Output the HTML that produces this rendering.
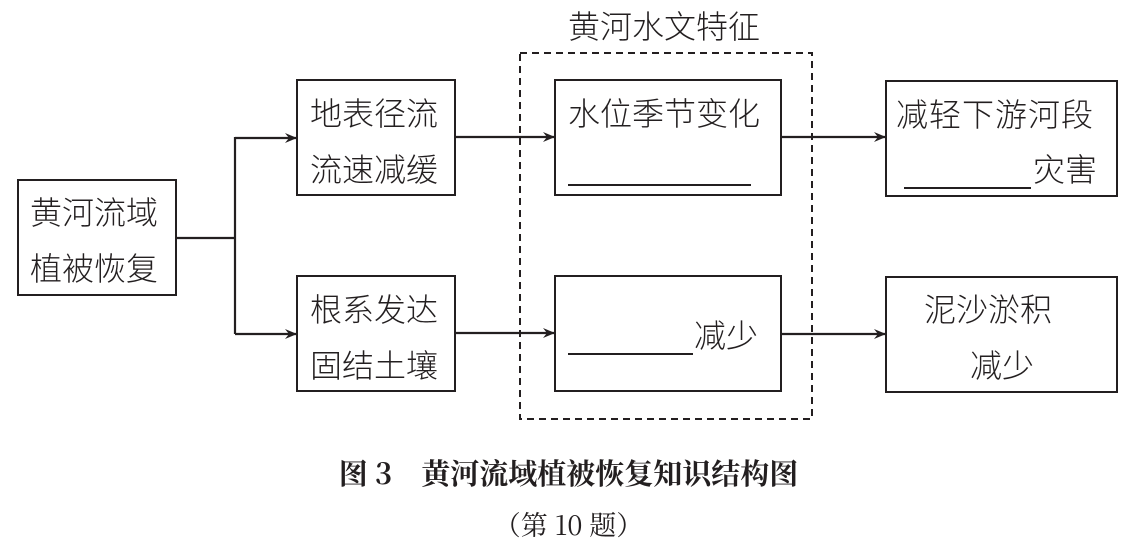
<!DOCTYPE html>
<html><head><meta charset="utf-8"><style>
body{margin:0;background:#fff;width:1137px;height:542px;overflow:hidden;position:relative;font-family:"Liberation Serif","Noto Serif CJK SC","Noto Sans CJK SC",serif;color:#231f20}
.b{position:absolute;border:2.5px solid #231f20;box-sizing:border-box}
.t{position:absolute;font-size:32px;line-height:32px;white-space:nowrap;font-family:"Noto Sans CJK SC",sans-serif;font-weight:300}
.u{position:absolute;height:0;border-top:2px solid #231f20}
</style></head><body>
<svg width="1137" height="542" style="position:absolute;left:0;top:0">
<defs><marker id="a" markerWidth="12" markerHeight="10" refX="11" refY="5" orient="auto" markerUnits="userSpaceOnUse"><path d="M0,0 L12,5 L0,10 L4,5 Z" fill="#231f20"/></marker></defs>
<g stroke="#231f20" stroke-width="2.2" fill="none">
<path d="M177,238 H235 M235,137 V334"/>
<path d="M235,138 H296" marker-end="url(#a)"/>
<path d="M235,334 H296" marker-end="url(#a)"/>
<path d="M455,137 H554" marker-end="url(#a)"/>
<path d="M455,333 H554" marker-end="url(#a)"/>
<path d="M781,137 H885" marker-end="url(#a)"/>
<path d="M781,334 H885" marker-end="url(#a)"/>
<rect x="520" y="53" width="292" height="366" stroke-dasharray="7,5" stroke-width="2"/>
</g></svg>
<div class="b" style="left:17px;top:179px;width:160px;height:117px"></div>
<div class="b" style="left:296px;top:79px;width:160px;height:117px"></div>
<div class="b" style="left:296px;top:275px;width:160px;height:117px"></div>
<div class="b" style="left:554px;top:79px;width:228px;height:117px"></div>
<div class="b" style="left:554px;top:275px;width:228px;height:117px"></div>
<div class="b" style="left:885px;top:80px;width:233px;height:117px"></div>
<div class="b" style="left:885px;top:276px;width:233px;height:117px"></div>
<div class="t" style="left:30px;top:195px">黄河流域</div>
<div class="t" style="left:30px;top:251px">植被恢复</div>
<div class="t" style="left:310px;top:96px">地表径流</div>
<div class="t" style="left:310px;top:152px">流速减缓</div>
<div class="t" style="left:310px;top:292px">根系发达</div>
<div class="t" style="left:310px;top:348px">固结土壤</div>
<div class="t" style="left:568px;top:9px">黄河水文特征</div>
<div class="t" style="left:568px;top:96px">水位季节变化</div>
<div class="u" style="left:568px;top:184px;width:183px"></div>
<div class="u" style="left:568px;top:353px;width:125px"></div>
<div class="t" style="left:694px;top:318px">减少</div>
<div class="t" style="left:896px;top:97px;letter-spacing:1px">减轻下游河段</div>
<div class="u" style="left:904px;top:187px;width:127px"></div>
<div class="t" style="left:1033px;top:152px">灾害</div>
<div class="t" style="left:924px;top:292px">泥沙淤积</div>
<div class="t" style="left:970px;top:348px">减少</div>
<div style="position:absolute;left:0;width:1137px;top:452px;text-align:center;font-size:29px;font-weight:bold;font-family:'Noto Serif CJK SC',serif">图 3　黄河流域植被恢复知识结构图</div>
<div style="position:absolute;left:0;width:1137px;top:504px;text-align:center;font-size:27px;font-family:'Noto Serif CJK SC',serif">（第 10 题）</div>
</body></html>
